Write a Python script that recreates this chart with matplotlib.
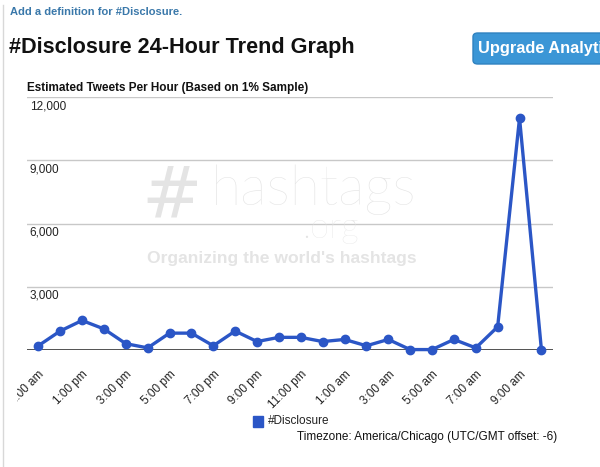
import matplotlib
matplotlib.use("Agg")
import matplotlib.pyplot as plt
from matplotlib.patches import FancyBboxPatch, Rectangle
from matplotlib.transforms import Bbox, TransformedBbox

hours = ["11:00 am", "12:00 pm", "1:00 pm", "2:00 pm", "3:00 pm", "4:00 pm",
         "5:00 pm", "6:00 pm", "7:00 pm", "8:00 pm", "9:00 pm", "10:00 pm",
         "11:00 pm", "12:00 am", "1:00 am", "2:00 am", "3:00 am", "4:00 am",
         "5:00 am", "6:00 am", "7:00 am", "8:00 am", "9:00 am", "10:00 am"]
tweets = [200, 900, 1400, 1000, 300, 100, 800, 800, 200, 900, 400, 600,
          600, 400, 500, 200, 500, 20, 20, 500, 100, 1100, 11000, 20]
y_ticks = [3000, 6000, 9000, 12000]
y_tick_labels = ["3,000", "6,000", "9,000", "12,000"]

W, H = 600, 467
fig = plt.figure(figsize=(W / 100, H / 100), dpi=100)
FONT = "Liberation Sans"
BLUE = "#2b56c6"

def fx(px):
    return px / W

def fy(py):
    return 1 - py / H

# page decorations
fig.text(fx(10), fy(12), "Add a definition for #Disclosure.", fontsize=8,
         fontweight="bold", color="#3a78aa", family=FONT, va="center")
fig.text(fx(9), fy(47), "#Disclosure 24-Hour Trend Graph", fontsize=15.6,
         fontweight="bold", color="#111111", family=FONT, va="center")
btn = FancyBboxPatch((fx(473), fy(64)), fx(140), 31 / H,
                     boxstyle="round,pad=0,rounding_size=0.008",
                     transform=fig.transFigure, facecolor="#3b96d6",
                     edgecolor="#2f82c0", linewidth=1)
fig.patches.append(btn)
fig.text(fx(478), fy(48.5), "Upgrade Analyti", fontsize=11.8, fontweight="bold",
         color="white", family=FONT, va="center")
# left border line
fig.add_artist(plt.Line2D([fx(3), fx(3)], [0, fy(5)], color="#d8d8d8",
                          linewidth=1, transform=fig.transFigure))

# chart
left, right, top, bottom = 26.7, 553, 97, 350
ax = fig.add_axes([fx(left), fy(bottom), fx(right - left), (bottom - top) / H])
x = list(range(len(tweets)))
ax.set_xlim(-0.53, 23.53)
ax.set_ylim(0, 12000)

for t in y_ticks:
    ax.axhline(t, color="#c8c8c8", linewidth=1, zorder=1)
ax.axhline(0, color="#444444", linewidth=1.3, zorder=2)

ax.plot(x, tweets, color=BLUE, linewidth=2.4, marker="o", markersize=6,
        markerfacecolor=BLUE, markeredgecolor=BLUE, zorder=4, clip_on=False)

for spine in ax.spines.values():
    spine.set_visible(False)
ax.set_yticks([])
ax.set_xticks(x[::2])
ax.set_xticklabels(hours[::2], rotation=45, ha="right", rotation_mode="anchor",
                   fontsize=8.5, family=FONT, color="#222222")
ax.tick_params(axis="x", length=0, pad=13)
clip = TransformedBbox(Bbox([[17 / W, 0], [1, 1]]), fig.transFigure)
for lab in ax.get_xticklabels():
    lab.set_clip_box(clip)
    lab.set_clip_on(True)

for t, lab in zip(y_ticks, y_tick_labels):
    ax.text(0.006, t - 430, lab, transform=ax.get_yaxis_transform(),
            fontsize=8.5, family=FONT, color="#222222", va="center", ha="left")

# watermark
wm = "#e4e4e4"
fig.text(fx(141), fy(197), "#", fontsize=52, color=wm,
         family="DejaVu Sans", va="center", ha="left", zorder=0)
fig.text(fx(211), fy(190), "hashtags", fontsize=40, color=wm, family="Lato",
         fontweight="light", va="center", ha="left", zorder=0)
fig.text(fx(302), fy(228), ".org", fontsize=25, color=wm, family="Lato",
         fontweight="light", va="center", ha="left", zorder=0)
fig.add_artist(plt.Line2D([fx(147), fx(418)], [fy(244), fy(244)], color=wm,
                          linewidth=1.2, transform=fig.transFigure, zorder=0))
fig.text(fx(147), fy(258), "Organizing the world's hashtags", fontsize=12.6,
         fontweight="bold", color=wm, family=FONT, va="center", ha="left",
         zorder=0)

# chart title
fig.text(fx(27), fy(88), "Estimated Tweets Per Hour (Based on 1% Sample)",
         fontsize=8.5, fontweight="bold", color="#111111", family=FONT,
         va="center")

# legend
fig.patches.append(Rectangle((fx(253), fy(427)), fx(10), 11 / H,
                             transform=fig.transFigure, facecolor=BLUE,
                             edgecolor=BLUE))
fig.text(fx(268), fy(421), "#Disclosure", fontsize=8.5, family=FONT,
         color="#222222", va="center")

fig.text(fx(557), fy(437), "Timezone: America/Chicago (UTC/GMT offset: -6)",
         fontsize=8.5, family=FONT, color="#111111", va="center", ha="right")

fig.savefig("out.png", dpi=100)
